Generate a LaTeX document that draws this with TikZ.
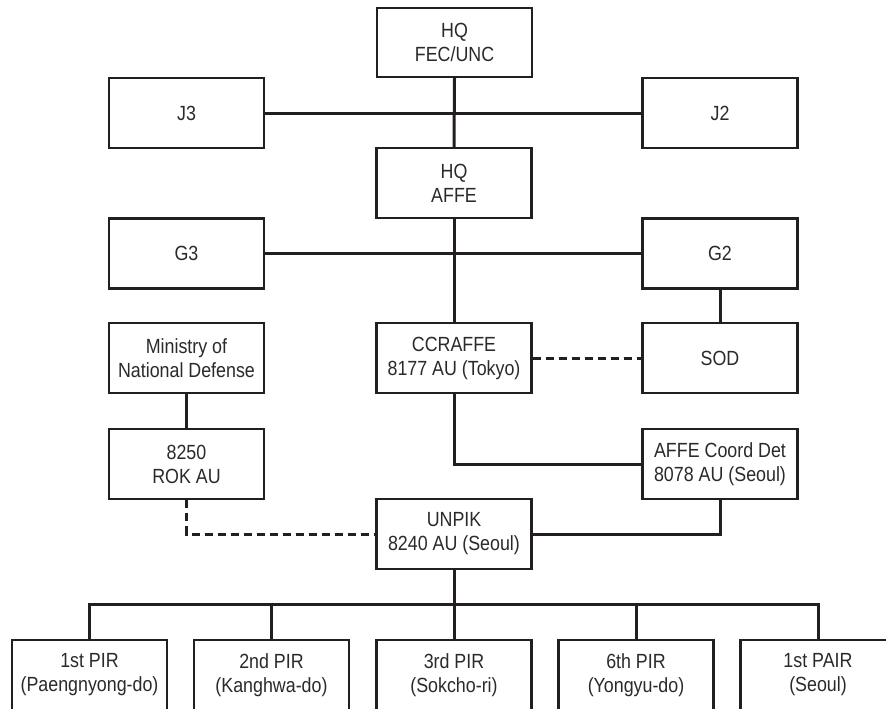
\documentclass[tikz,border=0pt]{standalone}
\usepackage{fontspec}
\setmainfont{Liberation Sans}[FakeStretch=0.87]
\definecolor{ink}{HTML}{231F20}
\definecolor{txt}{HTML}{2A2A2A}
\begin{document}
\begin{tikzpicture}[x=1pt,y=-1pt,
  box/.style={draw=ink, line width=2.3pt, fill=white, minimum width=155pt, minimum height=70pt,
    inner sep=0pt, align=center, text=txt, font=\fontsize{20.5}{24}\selectfont},
  conn/.style={draw=ink, line width=3pt},
  dashconn/.style={draw=ink, line width=3pt, dash pattern=on 8pt off 5pt}]
\useasboundingbox[fill=white] (0,0) rectangle (886,709);
% connectors (drawn first, under boxes)
\coordinate (bar) at (454,604);
% boxes
\node[box, minimum height=69pt] (hqfec) at (454.5,42.5) {HQ\\FEC/UNC};
\node[box] (j3) at (186.5,113) {J3};
\node[box] (j2) at (720,113) {J2};
\node[box] (hqaffe) at (454,183) {HQ\\AFFE};
\node[box] (g3) at (186.5,253.5) {G3};
\node[box] (g2) at (720,253.5) {G2};
\node[box] (mnd) at (186.5,358) {Ministry of\\National Defense};
\node[box] (ccr) at (454,358) {CCRAFFE\\8177 AU (Tokyo)};
\node[box] (sod) at (720,358) {SOD};
\node[box] (rok) at (186.5,464) {8250\\ROK AU};
\node[box] (acd) at (720,464) {AFFE Coord Det\\8078 AU (Seoul)};
\node[box] (unpik) at (454,534) {UNPIK\\8240 AU (Seoul)};
\node[box] (p1) at (89.5,675) {1st PIR\\(Paengnyong-do)};
\node[box] (p2) at (271.5,675) {2nd PIR\\(Kanghwa-do)};
\node[box] (p3) at (454,675) {3rd PIR\\(Sokcho-ri)};
\node[box] (p4) at (636,675) {6th PIR\\(Yongyu-do)};
\node[box] (p5) at (818,675) {1st PAIR\\(Seoul)};
% connectors
\draw[conn] (hqfec.south) -- (hqaffe.north);
\draw[conn] (j3.east) -- (j2.west);
\draw[conn] (hqaffe.south) -- (ccr.north);
\draw[conn] (g3.east) -- (g2.west);
\draw[conn] (g2.south) -- (sod.north);
\draw[dashconn] (ccr.east) -- (sod.west);
\draw[conn] (mnd.south) -- (rok.north);
\draw[conn] (ccr.south) |- (acd.west);
\draw[dashconn] (rok.south) |- (unpik.west);
\draw[conn] (unpik.east) -| (acd.south);
\draw[conn] (unpik.south) -- (bar);
\draw[conn, line join=miter] (p1.north) |- (bar) -| (p5.north);
\draw[conn] (p2.north) -- (p2.north |- bar);
\draw[conn] (p3.north) -- (bar);
\draw[conn] (p4.north) -- (p4.north |- bar);
\end{tikzpicture}
\end{document}
